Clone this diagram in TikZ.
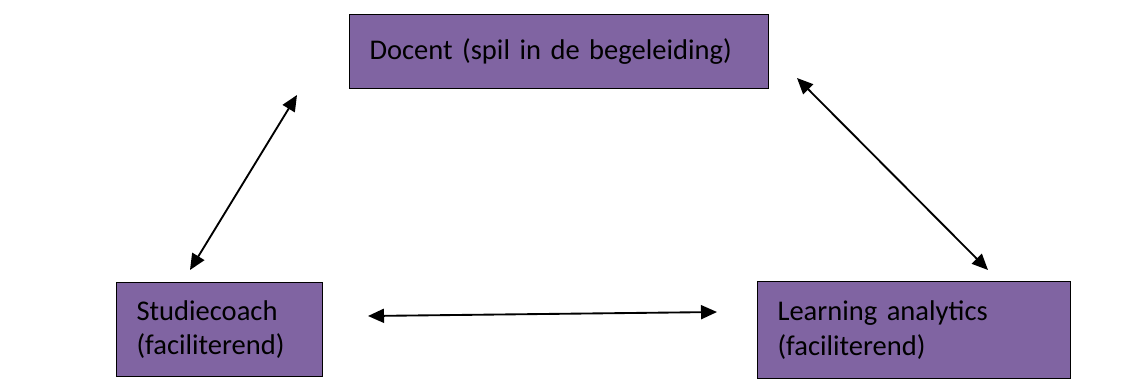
\documentclass[tikz,border=0pt]{standalone}
\usepackage{fontspec}
\setmainfont{Carlito}
\usepackage{tikz}
\usetikzlibrary{arrows.meta}
\definecolor{rolpaars}{HTML}{8064A2}
\tikzset{
  rol/.style={draw=black, line width=0.8pt, fill=rolpaars, rectangle, anchor=north west,
    inner xsep=15pt, inner ysep=0pt, align=left, font=\fontsize{21.4}{26.2}\selectfont},
  pijl/.style={line width=1.4pt, {Triangle[length=12pt,width=10.5pt]}-{Triangle[length=12pt,width=10.5pt]}}
}
\begin{document}
\begin{tikzpicture}[x=0.75pt, y=-0.75pt]
\useasboundingbox (0, 0) rectangle (1146, 387);
% de drie rollen
\node[rol, text width=284.25pt, minimum height=55.5pt] (docent) at (349, 14) {Docent (spil in de begeleiding)};
\node[rol, text width=124.5pt, minimum height=70.5pt] (coach) at (116, 282) {Studiecoach\\(faciliterend)};
\node[rol, text width=204.75pt, minimum height=72.75pt] (analytics) at (757, 281) {Learning analytics\\(faciliterend)};
% eindpunten van de pijlen
\coordinate (docL) at (297, 95);
\coordinate (coachT) at (190, 270);
\coordinate (docR) at (797, 78);
\coordinate (anaT) at (988, 270);
\coordinate (coachR) at (368, 316);
\coordinate (anaL) at (717, 312);
\draw[pijl] (docL) -- (coachT);
\draw[pijl] (docR) -- (anaT);
\draw[pijl] (coachR) -- (anaL);
\end{tikzpicture}
\end{document}
